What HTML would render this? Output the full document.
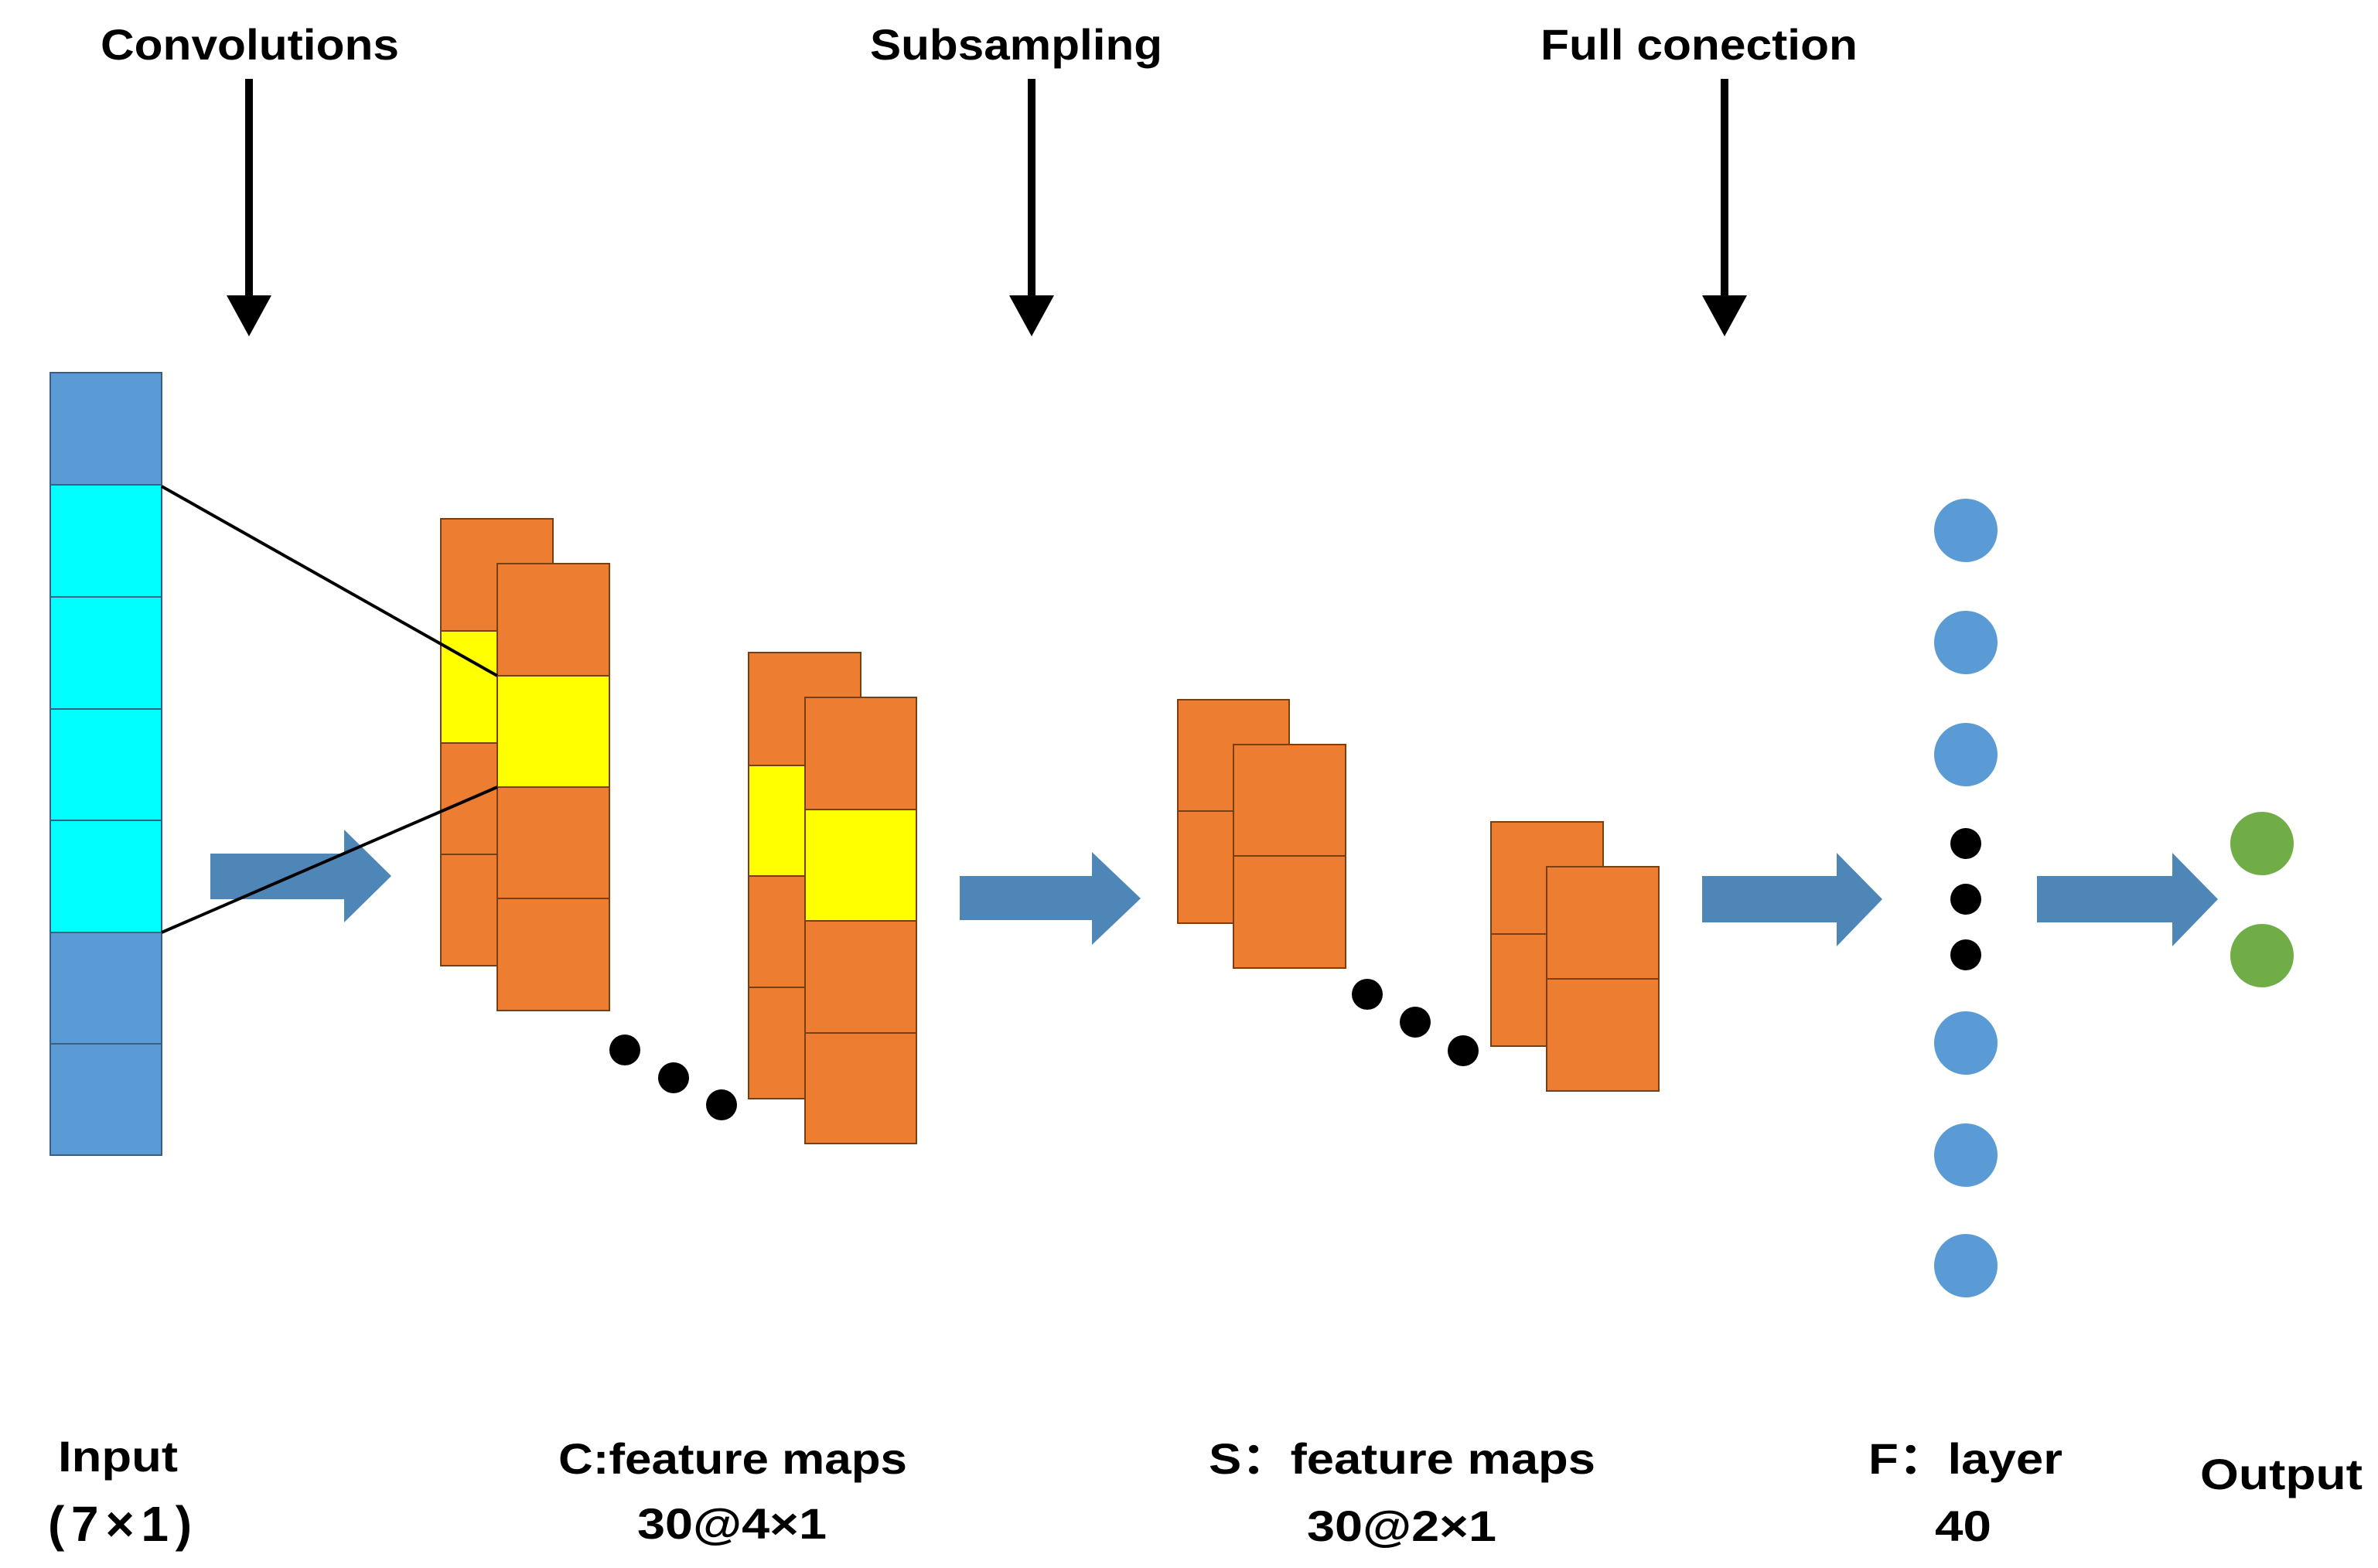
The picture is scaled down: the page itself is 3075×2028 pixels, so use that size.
<!DOCTYPE html>
<html><head><meta charset="utf-8"><style>
html,body{margin:0;padding:0;background:#fff}
svg{display:block}
text{font-family:"Liberation Sans","Noto Sans CJK SC",sans-serif;font-weight:bold;font-size:56px;fill:#000}
</style></head><body>
<svg width="3075" height="2028" viewBox="0 0 3075 2028" xmlns="http://www.w3.org/2000/svg">
<g stroke="#000" stroke-width="10">
<line x1="322" y1="102" x2="322" y2="390"/>
<line x1="1334" y1="102" x2="1334" y2="390"/>
<line x1="2230" y1="102" x2="2230" y2="390"/>
</g>
<polygon points="293,382 351,382 322,435"/>
<polygon points="1305,382 1363,382 1334,435"/>
<polygon points="2201,382 2259,382 2230,435"/>
<text x="130" y="77" textLength="386" lengthAdjust="spacingAndGlyphs">Convolutions</text>
<text x="1125" y="77" textLength="378" lengthAdjust="spacingAndGlyphs">Subsampling</text>
<text x="1992" y="77" textLength="410" lengthAdjust="spacingAndGlyphs">Full conection</text>

<g stroke="#3a5f86" stroke-width="2">
<rect x="65" y="482" width="144" height="145" fill="#5b9bd5"/>
<rect x="65" y="627" width="144" height="145" fill="#00ffff"/>
<rect x="65" y="772" width="144" height="145" fill="#00ffff"/>
<rect x="65" y="917" width="144" height="144" fill="#00ffff"/>
<rect x="65" y="1061" width="144" height="145" fill="#00ffff"/>
<rect x="65" y="1206" width="144" height="144" fill="#5b9bd5"/>
<rect x="65" y="1350" width="144" height="144" fill="#5b9bd5"/>
</g>

<g fill="#4e86b8">
<polygon points="272,1104 445,1104 445,1073 506,1133 445,1193 445,1163 272,1163"/>
<polygon points="1241,1133 1412,1133 1412,1102 1475,1162 1412,1222 1412,1190 1241,1190"/>
<polygon points="2201,1133 2375,1133 2375,1103 2434,1163 2375,1224 2375,1193 2201,1193"/>
<polygon points="2634,1133 2809,1133 2809,1103 2868,1163 2809,1224 2809,1193 2634,1193"/>
</g>

<g stroke="#7a3e10" stroke-width="2">
<rect x="570" y="671" width="145" height="145" fill="#ed7d31"/>
<rect x="570" y="816" width="145" height="145" fill="#ffff00"/>
<rect x="570" y="961" width="145" height="144" fill="#ed7d31"/>
<rect x="570" y="1105" width="145" height="144" fill="#ed7d31"/>
<rect x="643" y="729" width="145" height="145" fill="#ed7d31"/>
<rect x="643" y="874" width="145" height="144" fill="#ffff00"/>
<rect x="643" y="1018" width="145" height="144" fill="#ed7d31"/>
<rect x="643" y="1162" width="145" height="145" fill="#ed7d31"/>
<rect x="968" y="844" width="145" height="146" fill="#ed7d31"/>
<rect x="968" y="990" width="145" height="143" fill="#ffff00"/>
<rect x="968" y="1133" width="145" height="144" fill="#ed7d31"/>
<rect x="968" y="1277" width="145" height="144" fill="#ed7d31"/>
<rect x="1041" y="902" width="144" height="145" fill="#ed7d31"/>
<rect x="1041" y="1047" width="144" height="144" fill="#ffff00"/>
<rect x="1041" y="1191" width="144" height="145" fill="#ed7d31"/>
<rect x="1041" y="1336" width="144" height="143" fill="#ed7d31"/>
<rect x="1523" y="905" width="144" height="144" fill="#ed7d31"/>
<rect x="1523" y="1049" width="144" height="145" fill="#ed7d31"/>
<rect x="1595" y="963" width="145" height="144" fill="#ed7d31"/>
<rect x="1595" y="1107" width="145" height="145" fill="#ed7d31"/>
<rect x="1928" y="1063" width="145" height="145" fill="#ed7d31"/>
<rect x="1928" y="1208" width="145" height="145" fill="#ed7d31"/>
<rect x="2000" y="1121" width="145" height="145" fill="#ed7d31"/>
<rect x="2000" y="1266" width="145" height="145" fill="#ed7d31"/>
</g>

<g stroke="#000" stroke-width="4">
<line x1="209" y1="629" x2="643" y2="874"/>
<line x1="209" y1="1206" x2="643" y2="1018"/>
</g>

<g fill="#000">
<circle cx="808" cy="1358" r="20"/><circle cx="871" cy="1394" r="20"/><circle cx="933" cy="1429" r="20"/>
<circle cx="1768" cy="1286" r="20"/><circle cx="1830" cy="1322" r="20"/><circle cx="1892" cy="1359" r="20"/>
<circle cx="2542" cy="1091" r="20"/><circle cx="2542" cy="1163" r="20"/><circle cx="2542" cy="1235" r="20"/>
</g>
<g fill="#5b9bd5">
<circle cx="2542" cy="686" r="41"/><circle cx="2542" cy="831" r="41"/><circle cx="2542" cy="976" r="41"/>
<circle cx="2542" cy="1349" r="41"/><circle cx="2542" cy="1494" r="41"/><circle cx="2542" cy="1637" r="41"/>
</g>
<g fill="#70ad47">
<circle cx="2925" cy="1091" r="41"/><circle cx="2925" cy="1236" r="41"/>
</g>

<text x="75" y="1903" textLength="155" lengthAdjust="spacingAndGlyphs">Input</text>
<text x="62" y="1993" style="font-size:64px" textLength="186" lengthAdjust="spacing">(7×1)</text>
<text x="722" y="1906" textLength="451" lengthAdjust="spacingAndGlyphs">C:feature maps</text>
<text x="824" y="1990" textLength="245" lengthAdjust="spacingAndGlyphs">30@4×1</text>
<text x="1563" y="1906" textLength="500" lengthAdjust="spacingAndGlyphs">S：feature maps</text>
<text x="1690" y="1993" textLength="245" lengthAdjust="spacingAndGlyphs">30@2×1</text>
<text x="2416" y="1906" textLength="251" lengthAdjust="spacingAndGlyphs">F：layer</text>
<text x="2502" y="1993" textLength="73" lengthAdjust="spacingAndGlyphs">40</text>
<text x="2845" y="1926" textLength="210" lengthAdjust="spacingAndGlyphs">Output</text>
</svg>
</body></html>
